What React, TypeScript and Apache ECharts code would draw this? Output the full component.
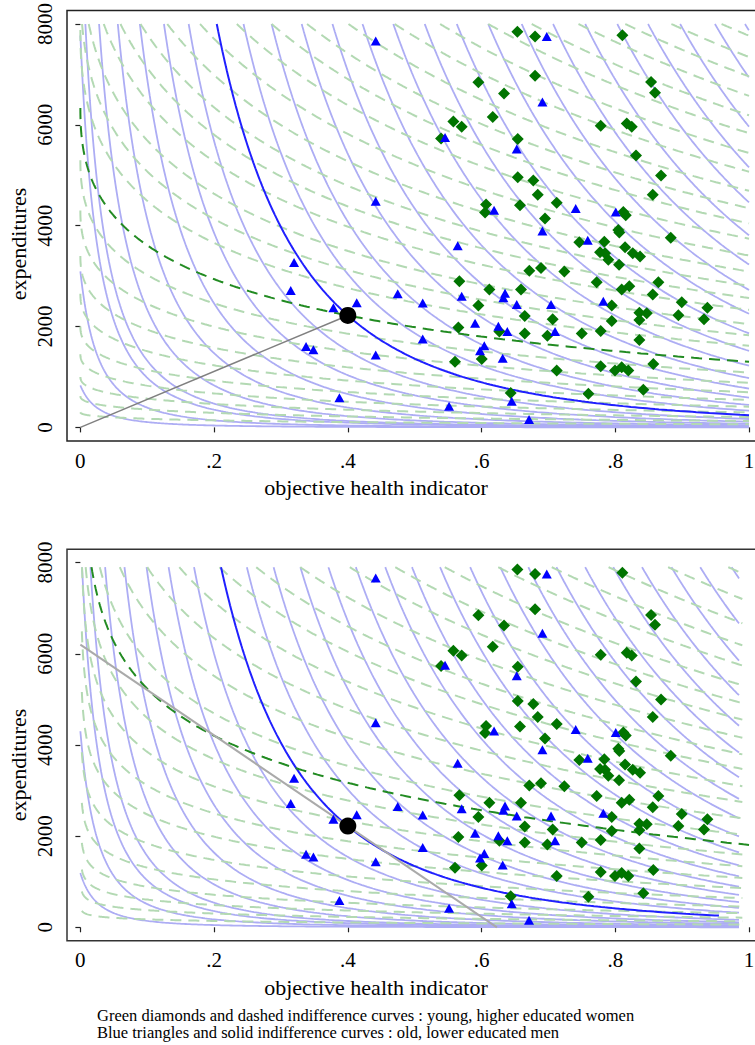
import React, { useEffect, useRef } from "react";
import * as echarts from "echarts";

// ---------- axes ----------
const xTicks = [0, 0.2, 0.4, 0.6, 0.8, 1];
const xTickLabels = ["0", ".2", ".4", ".6", ".8", "1"];
const yTicks = [0, 2000, 4000, 6000, 8000];

// ---------- observations (objective health, expenditures) ----------
const oldMen: number[][] = [
  [0.4417, 7664], [0.4417, 4485], [0.3196, 3271], [0.3146, 2714], [0.3784, 2372],
  [0.4133, 2471], [0.3375, 1605], [0.3485, 1540], [0.4417, 1436], [0.3874, 590],
  [0.6975, 7750], [0.691, 6452], [0.5454, 5750], [0.6526, 5520], [0.6187, 4308],
  [0.7408, 4340], [0.8007, 4274], [0.691, 3894], [0.5643, 3600], [0.7588, 3710],
  [0.4746, 2648], [0.512, 2465], [0.5703, 2602], [0.6351, 2661], [0.6326, 2569],
  [0.6526, 2439], [0.7039, 2439], [0.7821, 2504], [0.5903, 2065], [0.6251, 2006],
  [0.6385, 1900], [0.7099, 1900], [0.512, 1751], [0.6041, 1619], [0.5977, 1521],
  [0.6316, 1369], [0.6451, 517], [0.5514, 419], [0.671, 157],
];

const youngWomen: number[][] = [
  [0.6536, 7848], [0.68, 7750], [0.8106, 7776], [0.68, 6975], [0.5952, 6845],
  [0.8535, 6851], [0.8594, 6635], [0.6336, 6621], [0.6167, 6157], [0.5578, 6064],
  [0.5703, 5960], [0.7782, 5980], [0.8171, 6025], [0.8246, 5960], [0.5394, 5730],
  [0.6541, 5717], [0.831, 5390], [0.6541, 4963], [0.6774, 4898], [0.8684, 4996],
  [0.684, 4615], [0.856, 4615], [0.6067, 4418], [0.6052, 4261], [0.6575, 4406],
  [0.7124, 4457], [0.812, 4274], [0.8156, 4209], [0.6949, 4143], [0.8045, 3914],
  [0.806, 3867], [0.8829, 3763], [0.7462, 3671], [0.7836, 3684], [0.8146, 3572],
  [0.7772, 3474], [0.7847, 3454], [0.7896, 3324], [0.8261, 3454], [0.837, 3389],
  [0.8056, 3226], [0.6714, 3108], [0.6889, 3159], [0.7238, 3094], [0.5668, 2897],
  [0.7722, 2878], [0.8644, 2878], [0.6117, 2734], [0.659, 2734], [0.8096, 2734],
  [0.821, 2799], [0.856, 2636], [0.8994, 2484], [0.9377, 2372], [0.5952, 2419],
  [0.7947, 2419], [0.836, 2274], [0.847, 2262], [0.6646, 2209], [0.8943, 2223],
  [0.9327, 2144], [0.7064, 2144], [0.5653, 1979], [0.7947, 2111], [0.836, 2130],
  [0.6266, 1900], [0.6646, 1861], [0.6984, 1816], [0.7498, 1861], [0.7782, 1914],
  [0.836, 1731], [0.5603, 1304], [0.6003, 1357], [0.7124, 1127], [0.7782, 1212],
  [0.7996, 1127], [0.8096, 1192], [0.8195, 1127], [0.8569, 1259], [0.6436, 681],
  [0.7597, 669], [0.8419, 747],
];

const referencePoint = [0.4, 2220];
const rayFromOrigin = [[0, 0], [0.4, 2220]];
const budgetLine = [[0, 6200], [0.623, 0]];

// ---------- indifference maps (levels read where each curve meets an edge) ----------
// top & bottom blue, top green: expenditures = exp(L - k * (health + c)^p)
const topBlueTopCrossings = [0.0075, 0.028, 0.056, 0.089, 0.125, 0.162, 0.244, 0.286, 0.331, 0.377, 0.422, 0.468, 0.515, 0.563, 0.61, 0.66, 0.707, 0.755, 0.803, 0.849, 0.897, 0.949, 0.994];
const topBlueLeftValues = [834, 3094, 7775];
const topGreenTopCrossings = [0.0025, 0.0126, 0.035, 0.06, 0.09, 0.13, 0.179, 0.234, 0.286, 0.339, 0.401, 0.47, 0.538, 0.61, 0.675, 0.745, 0.815, 0.884, 0.959];
const topGreenLeftValues = [300, 620, 1000, 1450, 2000, 2650, 3400, 4300, 5300, 7880];
const bottomBlueTopCrossings = [0.0025, 0.015, 0.037, 0.066, 0.099, 0.132, 0.17, 0.249, 0.289, 0.329, 0.371, 0.412, 0.456, 0.496, 0.538, 0.583, 0.628, 0.67, 0.712, 0.755, 0.797, 0.84, 0.884, 0.927, 0.974];
const bottomBlueLeftValues = [1190, 4300];
// bottom green: expenditures = C * (A - ln health)
const bottomGreenTopCrossings = [0.029, 0.059, 0.1, 0.148, 0.208, 0.263, 0.329, 0.403, 0.471, 0.545, 0.625, 0.705, 0.79, 0.879, 0.969];
const bottomGreenRightValues = [60, 130, 210, 307, 452, 636, 855, 1075, 1329, 1586];

type Shape = { k: number; p: number; c: number };
const TOP_BLUE: Shape = { k: 11.216, p: 0.25, c: 0.03 };
const TOP_GREEN: Shape = { k: 1.583, p: 0.45, c: 0 };
const BOTTOM_BLUE: Shape = { k: 11.58, p: 0.25, c: 0.03 };
const BOTTOM_GREEN_A = 1.2144;
const BOTTOM_GREEN_HMIN = 0.0022;
const bottomGreenDarkAnchor = [1, 1807];
const TOP_CLIP = 8000;
const BOTTOM_CLIP = 7900;

const N = 260;
function grid(h0: number, hEnd: number): number[] {
  const g: number[] = [];
  for (let i = 0; i <= N; i++) g.push(h0 + Math.pow(i / N, 2.2) * (hEnd - h0));
  return g;
}

function expCurve(L: number, s: Shape, clip: number, hEnd: number) {
  const f = (h: number) => Math.exp(L - s.k * Math.pow(h + s.c, s.p));
  const lc = Math.log(clip);
  let h0 = 0;
  if (f(0) > clip) h0 = Math.pow((L - lc) / s.k, 1 / s.p) - s.c;
  const pts: number[][] = [];
  if (h0 >= hEnd) return pts;
  pts.push([h0, f(h0)]);
  for (const h of grid(h0, hEnd)) if (h > h0) pts.push([h, f(h)]);
  return pts;
}
const LfromTop = (hs: number, s: Shape, clip: number) => Math.log(clip) + s.k * Math.pow(hs + s.c, s.p);
const LfromPoint = (h: number, e: number, s: Shape) => Math.log(e) + s.k * Math.pow(h + s.c, s.p);

function logCurve(C: number, clip: number, hEnd: number) {
  const f = (h: number) => C * (BOTTOM_GREEN_A - Math.log(h));
  const h0 = Math.max(BOTTOM_GREEN_HMIN, Math.exp(BOTTOM_GREEN_A - clip / C));
  const pts: number[][] = [[h0, f(h0)]];
  for (const h of grid(h0, hEnd)) if (h > h0) pts.push([h, f(h)]);
  return pts;
}

const LIGHT_BLUE = { color: "#adadf4", width: 1.8 };
const LIGHT_GREEN = { color: "#b3d9b3", width: 2, type: [11, 7] as any };
const DARK_BLUE = { color: "#2020ff", width: 2 };
const DARK_GREEN = { color: "#228b22", width: 2, type: [11, 7] as any };

function line(data: number[][], gi: number, style: any, z: number) {
  return {
    type: "line", xAxisIndex: gi, yAxisIndex: gi, data, showSymbol: false, symbol: "none",
    lineStyle: style, silent: true, z, clip: true, animation: false,
  };
}

function buildPanel(gi: number): any[] {
  const s: any[] = [];
  if (gi === 0) {
    for (const v of topBlueLeftValues) s.push(line(expCurve(LfromPoint(0, v, TOP_BLUE), TOP_BLUE, TOP_CLIP, 1), gi, LIGHT_BLUE, 1));
    for (const h of topBlueTopCrossings) s.push(line(expCurve(LfromTop(h, TOP_BLUE, TOP_CLIP), TOP_BLUE, TOP_CLIP, 1), gi, LIGHT_BLUE, 1));
    for (const v of topGreenLeftValues) s.push(line(expCurve(LfromPoint(0, v, TOP_GREEN), TOP_GREEN, TOP_CLIP, 1), gi, LIGHT_GREEN, 2));
    for (const h of topGreenTopCrossings) s.push(line(expCurve(LfromTop(h, TOP_GREEN, TOP_CLIP), TOP_GREEN, TOP_CLIP, 1), gi, LIGHT_GREEN, 2));
    s.push(line(expCurve(LfromPoint(referencePoint[0], referencePoint[1], TOP_BLUE), TOP_BLUE, TOP_CLIP, 1), gi, DARK_BLUE, 3));
    s.push(line(expCurve(LfromPoint(referencePoint[0], referencePoint[1], TOP_GREEN), TOP_GREEN, TOP_CLIP, 1), gi, DARK_GREEN, 3));
    s.push(line(rayFromOrigin, gi, { color: "#808080", width: 1.5 }, 4));
  } else {
    for (const v of bottomBlueLeftValues) s.push(line(expCurve(LfromPoint(0, v, BOTTOM_BLUE), BOTTOM_BLUE, BOTTOM_CLIP, 0.985), gi, LIGHT_BLUE, 1));
    for (const h of bottomBlueTopCrossings) s.push(line(expCurve(LfromTop(h, BOTTOM_BLUE, BOTTOM_CLIP), BOTTOM_BLUE, BOTTOM_CLIP, 0.985), gi, LIGHT_BLUE, 1));
    for (const v of bottomGreenRightValues) s.push(line(logCurve(v / BOTTOM_GREEN_A, BOTTOM_CLIP, 0.99), gi, LIGHT_GREEN, 2));
    for (const h of bottomGreenTopCrossings) s.push(line(logCurve(BOTTOM_CLIP / (BOTTOM_GREEN_A - Math.log(h)), BOTTOM_CLIP, 0.99), gi, LIGHT_GREEN, 2));
    s.push(line(expCurve(LfromPoint(referencePoint[0], referencePoint[1], BOTTOM_BLUE), BOTTOM_BLUE, BOTTOM_CLIP, 0.955), gi, DARK_BLUE, 3));
    const Cd = bottomGreenDarkAnchor[1] / (BOTTOM_GREEN_A - Math.log(bottomGreenDarkAnchor[0]));
    s.push(line(logCurve(Cd, BOTTOM_CLIP, 1), gi, DARK_GREEN, 3));
    s.push(line(budgetLine, gi, { color: "#aaaaaa", width: 2 }, 4));
  }
  s.push({ type: "scatter", xAxisIndex: gi, yAxisIndex: gi, data: youngWomen, symbol: "diamond", symbolSize: 12, itemStyle: { color: "#007400", opacity: 1 }, z: 5, silent: true });
  s.push({ type: "scatter", xAxisIndex: gi, yAxisIndex: gi, data: oldMen, symbol: "triangle", symbolSize: [10, 9], itemStyle: { color: "#0000ff", opacity: 1 }, z: 6, silent: true });
  s.push({ type: "scatter", xAxisIndex: gi, yAxisIndex: gi, data: [referencePoint], symbol: "circle", symbolSize: 17, itemStyle: { color: "#000000", opacity: 1 }, z: 7, silent: true });
  return s;
}

const SERIF = "Liberation Serif";

function xAxis(gi: number) {
  return {
    type: "value", gridIndex: gi, min: -0.02, max: 1.02,
    axisLine: { show: false }, splitLine: { show: false },
    axisTick: { show: true, customValues: xTicks, length: 5, inside: false, lineStyle: { color: "#222", width: 1.2 } },
    axisLabel: {
      customValues: xTicks, margin: 9, fontSize: 21, fontFamily: SERIF, color: "#000",
      formatter: (v: number) => { const i = xTicks.findIndex((t) => Math.abs(t - v) < 1e-9); return i >= 0 ? xTickLabels[i] : ""; },
    },
  };
}
function yAxis(gi: number, min: number, max: number) {
  return {
    type: "value", gridIndex: gi, min, max,
    axisLine: { show: false }, splitLine: { show: false },
    axisTick: { show: true, customValues: yTicks, length: 5, inside: false, lineStyle: { color: "#222", width: 1.2 } },
    axisLabel: { customValues: yTicks, rotate: 90, margin: 12, fontSize: 21, fontFamily: SERIF, color: "#000", formatter: (v: number) => String(Math.round(v)) },
  };
}

function txt(text: string, x: number, y: number, size: number, rot = 0, align = "center") {
  return {
    type: "text", x, y, rotation: rot, silent: true,
    style: { text, x: 0, y: 0, fontSize: size, fontFamily: SERIF, fill: "#000", align, textAlign: align, verticalAlign: "middle", textVerticalAlign: "middle" },
  };
}

export default function App() {
  const ref = useRef<HTMLDivElement>(null);
  useEffect(() => {
    if (!ref.current) return;
    const chart = echarts.init(ref.current, undefined, { renderer: "svg" });
    chart.setOption({
      animation: false,
      backgroundColor: "#fff",
      grid: [
        { left: 67, top: 7, width: 695.4, height: 434, show: true, borderColor: "#222", borderWidth: 1.5 },
        { left: 67, top: 549.3, width: 695.4, height: 391.4, show: true, borderColor: "#333", borderWidth: 1.5 },
      ],
      xAxis: [xAxis(0), xAxis(1)],
      yAxis: [yAxis(0, -270, 8268), yAxis(1, -294, 8292)],
      series: [...buildPanel(0), ...buildPanel(1)],
      graphic: [
        txt("expenditures", 18, 244, 22, Math.PI / 2),
        txt("objective health indicator", 376, 487, 22),
        txt("expenditures", 18, 765, 22, Math.PI / 2),
        txt("objective health indicator", 376, 987, 22),
        txt("Green diamonds and dashed indifference curves : young, higher educated women", 97, 1015, 16.5, 0, "left"),
        txt("Blue triangles and solid indifference curves : old, lower educated men", 97, 1032, 16.5, 0, "left"),
      ],
    });
    return () => chart.dispose();
  }, []);
  return (
    <div style={{ position: "absolute", left: 0, top: 0, width: 755, height: 1045, overflow: "hidden", background: "#fff" }}>
      <div ref={ref} style={{ width: 800, height: 1045 }} />
    </div>
  );
}
